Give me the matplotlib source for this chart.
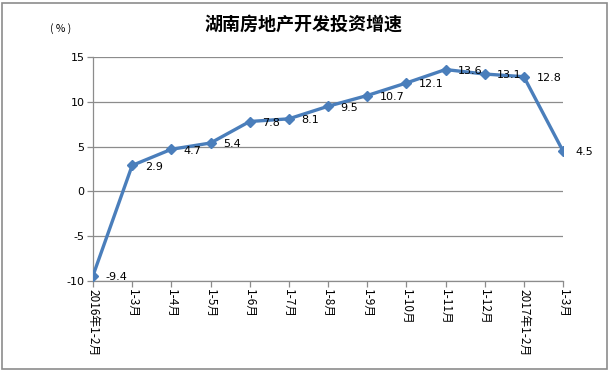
import matplotlib.pyplot as plt
import numpy as np
from matplotlib.patches import Rectangle

plt.rcParams['font.family'] = ['Noto Sans CJK SC', 'DejaVu Sans']

# 数据
categories = ['2016年1-2月', '1-3月', '1-4月', '1-5月', '1-6月', '1-7月', '1-8月',
              '1-9月', '1-10月', '1-11月', '1-12月', '2017年1-2月', '1-3月']
values = [-9.4, 2.9, 4.7, 5.4, 7.8, 8.1, 9.5, 10.7, 12.1, 13.6, 13.1, 12.8, 4.5]
y_ticks = [-10, -5, 0, 5, 10, 15]

LINE_COLOR = '#4a7ebb'
GRID_COLOR = '#8c8c8c'

fig = plt.figure(figsize=(6.1, 3.72), dpi=100)
ax = fig.add_axes([93 / 610, 1 - 281 / 372, 470 / 610, 224 / 372])

x = np.arange(len(values))
ax.plot(x, values, color=LINE_COLOR, linewidth=2.4, marker='D', markersize=5,
        markerfacecolor=LINE_COLOR, markeredgecolor=LINE_COLOR, zorder=3)

# 数据标签
for xi, v in zip(x, values):
    ax.annotate(f'{v:.1f}', (xi, v), xytext=(9, -1), textcoords='offset points',
                ha='left', va='center', fontsize=8, color='#000000',
                family=['DejaVu Sans'])

# 坐标轴
ax.set_xlim(0, len(values) - 1)
ax.set_ylim(-10, 15)
ax.set_yticks(y_ticks)
ax.set_yticklabels([str(t) for t in y_ticks], family=['DejaVu Sans'], fontsize=8)
ax.set_xticks(x)
ax.set_xticklabels(categories, rotation=-90, fontsize=8.5, va='top', ha='center')
ax.yaxis.grid(True, color=GRID_COLOR, linewidth=0.9)
ax.set_axisbelow(True)

for side in ['top', 'right']:
    ax.spines[side].set_visible(False)
for side in ['left', 'bottom']:
    ax.spines[side].set_color(GRID_COLOR)
    ax.spines[side].set_linewidth(0.9)
ax.tick_params(axis='both', direction='out', length=4, width=0.9, colors=GRID_COLOR,
               labelcolor='#000000', pad=2)

# 标题与单位
fig.text(303 / 610, 1 - 24 / 372, '湖南房地产开发投资增速', ha='center', va='center',
         fontsize=13, fontweight='bold')
fig.text(61 / 610, 1 - 29 / 372, '( % )', ha='center', va='center', fontsize=7.5)

# 外边框
fig.patches.append(Rectangle((2 / 610, 3 / 372), 605 / 610, 366 / 372,
                             transform=fig.transFigure, fill=False,
                             edgecolor='#8c8c8c', linewidth=1.2))

fig.savefig('out.png', dpi=100, facecolor='white')
